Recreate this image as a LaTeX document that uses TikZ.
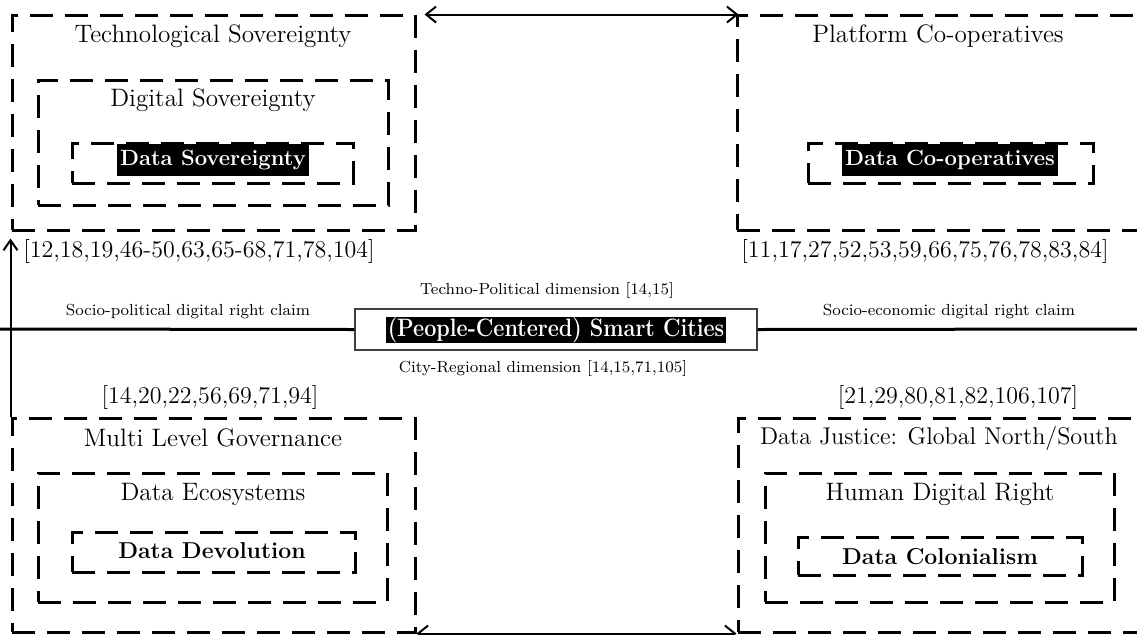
\documentclass[tikz,border=0pt]{standalone}
\usetikzlibrary{arrows.meta,fit}
\begin{document}
\begin{tikzpicture}[x=0.5pt,y=-0.5pt,
 dbox/.style={draw, line width=1.5pt, dash pattern=on 11.5pt off 6pt, inner sep=0pt},
 title/.style={font=\fontsize{12.6}{14}\selectfont},
 refs/.style={font=\fontsize{12}{13}\selectfont},
 small/.style={font=\fontsize{8}{9}\selectfont},
 hl/.style={fill=black, text=white, font=\fontsize{11}{13}\selectfont\bfseries, inner xsep=1.5pt, inner ysep=0pt, minimum height=16pt},
 boldlab/.style={font=\fontsize{11.5}{13}\selectfont\bfseries},
 arr/.style={line width=1pt, {Straight Barb[length=5pt,width=8pt]}-{Straight Barb[length=5pt,width=8pt]}},
 uparr/.style={line width=1pt, -{Straight Barb[length=5pt,width=7pt]}},
 axis/.style={line width=1.5pt},
]
\useasboundingbox (0,0) rectangle (1137,634);
\clip (0,0) rectangle (1137,634);

% boxes
\node[dbox, fit={(12,15)(415,230)}] (tl) {};
\node[dbox, fit={(38,80)(388,205)}] (tlm) {};
\node[dbox, fit={(72,143)(353,183)}] (tli) {};
\node[dbox, fit={(737,15)(1160,230)}] (tr) {};
\node[dbox, fit={(808,143)(1093,183)}] (tri) {};
\node[dbox, fit={(12,418)(415,632)}] (bl) {};
\node[dbox, fit={(38,473)(387,602)}] (blm) {};
\node[dbox, fit={(72,532)(355,572)}] (bli) {};
\node[dbox, fit={(738,418)(1160,632)}] (br) {};
\node[dbox, fit={(765,473)(1114,602)}] (brm) {};
\node[dbox, fit={(798,537)(1082,575)}] (bri) {};

% texts top-left
\node[title] (t1) at (213,36) {Technological Sovereignty};
\node[title] (t2) at (213,100) {Digital Sovereignty};
\node[hl] (t3) at (213,160) {Data Sovereignty};
\node[refs] (r1) at (199,251) {[12,18,19,46-50,63,65-68,71,78,104]};

% top-right
\node[title] (p1) at (938,36) {Platform Co-operatives};
\node[hl] (p2) at (950,160) {Data Co-operatives};
\node[refs] (r2) at (925,251) {[11,17,27,52,53,59,66,75,76,78,83,84]};

% middle
\coordinate (L) at (0,329);
\coordinate (R) at (1137,329);
\node[draw=black!75, line width=0.6pt, fill=white, minimum width=201pt, minimum height=20.5pt, inner sep=0pt] (c) at (556,329.5) {};
\draw[axis] (L) -- (c.west);
\draw[axis] (c.east) -- (R);
\node[fill=black, text=white, inner xsep=1pt, inner ysep=0pt, minimum height=12.5pt, font=\fontsize{12}{13}\selectfont\bfseries] (ct) at (556,330) {\scalebox{0.9}[1.05]{(People-Centered) Smart Cities}};
\node[small] (m1) at (547,290) {Techno-Political dimension [14,15]};
\node[small] (m2) at (188,311) {Socio-political digital right claim};
\node[small] (m3) at (949,311) {Socio-economic digital right claim};
\node[small] (m4) at (543,368) {City-Regional dimension [14,15,71,105]};
\node[refs] (r3) at (210,397) {[14,20,22,56,69,71,94]};
\node[refs] (r4) at (958,397) {[21,29,80,81,82,106,107]};

% bottom-left
\node[title] (b1) at (213,438) {Multi Level Governance};
\node[title] (b2) at (213,494) {Data Ecosystems};
\node[boldlab] (b3) at (212,551) {Data Devolution};

% bottom-right
\node[title, font=\fontsize{12.1}{14}\selectfont] (d1) at (939,438) {Data Justice: Global North/South};
\node[title] (d2) at (940,494) {Human Digital Right};
\node[boldlab] (d3) at (940,557) {Data Colonialism};

% arrows
\draw[arr] ([xshift=4pt,yshift=-0.5pt]tl.north east) -- ([xshift=1.5pt,yshift=-0.5pt]tr.north west);
\draw[arr] (bl.south east) -- (br.south west);
\draw[uparr] (bl.north west) -- ([yshift=-3.5pt]tl.south west);
\end{tikzpicture}
\end{document}
